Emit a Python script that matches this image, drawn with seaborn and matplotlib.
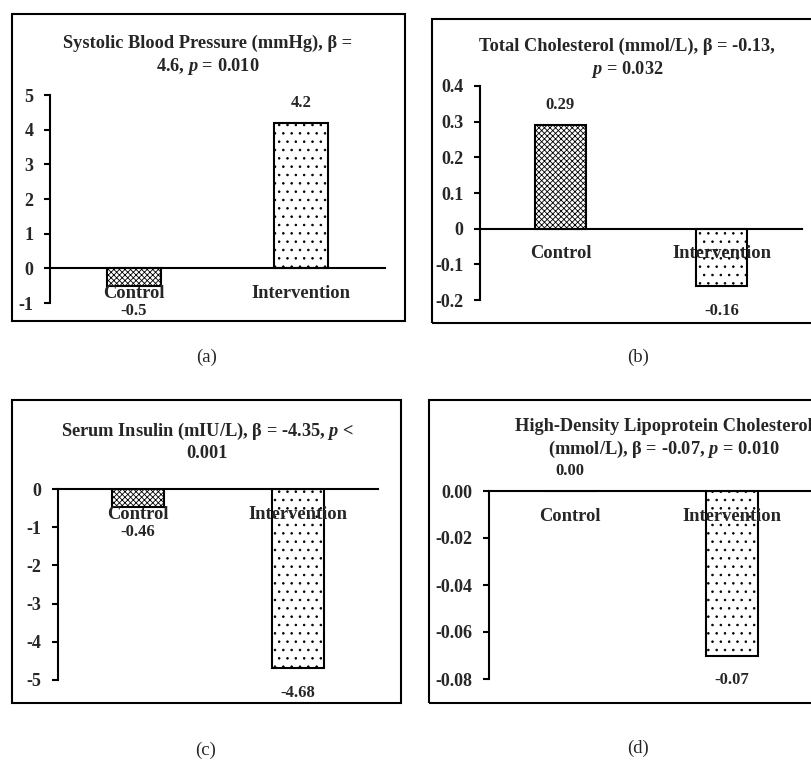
import numpy as np
import pandas as pd
import seaborn as sns
import matplotlib.pyplot as plt
from matplotlib.patches import Rectangle

# Data
categories = ['Control', 'Intervention']
sbp_change = [-0.5, 4.2]
chol_change = [0.29, -0.16]
insulin_change = [-0.46, -4.68]
hdl_change = [0.00, -0.07]

sbp_labels = ['-0.5', '4.2']
chol_labels = ['0.29', '-0.16']
insulin_labels = ['-0.46', '-4.68']
hdl_labels = ['0.00', '-0.07']

sbp_ticks = [-1, 0, 1, 2, 3, 4, 5]
chol_ticks = [-0.2, -0.1, 0, 0.1, 0.2, 0.3, 0.4]
chol_ticklabels = ['-0.2', '-0.1', '0', '0.1', '0.2', '0.3', '0.4']
insulin_ticks = [-5, -4, -3, -2, -1, 0]
hdl_ticks = [-0.08, -0.06, -0.04, -0.02, 0.00]

titles = ['Systolic Blood Pressure (mmHg), \u03b2 =\n4.6, $p$ = 0.010',
          'Total Cholesterol (mmol/L), \u03b2 = -0.13,\n$p$ = 0.032',
          'Serum Insulin (mIU/L), \u03b2 = -4.35, $p$ <\n0.001',
          'High-Density Lipoprotein Cholesterol\n(mmol/L), \u03b2 = -0.07, $p$ = 0.010']
panel_tags = ['(a)', '(b)', '(c)', '(d)']

sns.set_style('white')
plt.rcParams['font.family'] = ['Liberation Serif', 'DejaVu Serif']
plt.rcParams['mathtext.fontset'] = 'custom'
plt.rcParams['mathtext.it'] = 'Liberation Serif:italic:bold'
plt.rcParams['mathtext.rm'] = 'Liberation Serif:bold'
plt.rcParams['hatch.linewidth'] = 0.6

W, H = 812, 763
fig = plt.figure(figsize=(W / 100, H / 100), dpi=100)


def px_axes(x0, y0, x1, y1):
    return fig.add_axes([x0 / W, 1 - y1 / H, (x1 - x0) / W, (y1 - y0) / H])


def frame(x0, y0, x1, y1):
    fig.add_artist(Rectangle((x0 / W, 1 - y1 / H), (x1 - x0) / W, (y1 - y0) / H,
                             transform=fig.transFigure, fill=False, lw=1.5, ec='black'))


def panel(ax, values, labels, ylim, ticks, ticklabels):
    sns.barplot(x=categories, y=values, ax=ax, color='white', edgecolor='black',
                linewidth=1.5, width=0.32, saturation=1)
    for patch, h in zip(ax.patches, ['xxxxxx', '..']):
        patch.set_hatch(h)
        patch.set_facecolor('white')
        patch.set_zorder(1)
    ax.set_xlim(-0.5, 1.5)
    ax.set_ylim(*ylim)
    ax.set_yticks(ticks)
    ax.set_yticklabels(ticklabels, fontsize=13, fontweight='bold')
    for s in ['top', 'right']:
        ax.spines[s].set_visible(False)
    for s in ['left', 'bottom']:
        ax.spines[s].set_linewidth(1.5)
        ax.spines[s].set_color('black')
        ax.spines[s].set_zorder(5)
    ax.spines['bottom'].set_position(('data', 0))
    ax.xaxis.set_zorder(6)
    ax.tick_params(axis='y', left=True, length=4, width=1.5, pad=8, color='black')
    ax.tick_params(axis='x', length=0, pad=12)
    for t in ax.get_xticklabels():
        t.set_fontsize(13.3)
        t.set_fontweight('bold')
    ax.set_xlabel('')
    ax.set_ylabel('')
    ax.patch.set_alpha(0)
    for i, (v, lab) in enumerate(zip(values, labels)):
        off = 20 if v >= 0 else -25
        ax.annotate(lab, (i, v), xytext=(0, off), textcoords='offset pixels',
                    ha='center', va='center', fontsize=12, fontweight='bold', zorder=7)


# frames
frame(12, 14, 405, 321)
frame(432, 19, 844, 323)
frame(12, 400, 401, 703)
frame(429, 400, 847, 703)

ax_a = px_axes(50, 95, 385, 303)
panel(ax_a, sbp_change, sbp_labels, (-1, 5), sbp_ticks, [str(t) for t in sbp_ticks])
ax_b = px_axes(480, 86, 802, 300)
panel(ax_b, chol_change, chol_labels, (-0.2, 0.4), chol_ticks, chol_ticklabels)
ax_c = px_axes(58, 489, 378, 680)
panel(ax_c, insulin_change, insulin_labels, (-5, 0), insulin_ticks, [str(t) for t in insulin_ticks])
ax_d = px_axes(489, 491, 813, 679)
panel(ax_d, hdl_change, hdl_labels, (-0.08, 0), hdl_ticks, ['%.2f' % t for t in hdl_ticks])

# titles
title_pos = [(208, 56), (627, 59), (207, 441.5), (664, 439)]
for (tx, ty), t in zip(title_pos, titles):
    fig.text(tx / W, 1 - ty / H, t, ha='center', va='center', fontsize=13.2,
             fontweight='bold', linespacing=1.25)

tag_pos = [(207, 357), (638, 357), (206, 750), (638, 748)]
for (tx, ty), t in zip(tag_pos, panel_tags):
    fig.text(tx / W, 1 - ty / H, t, ha='center', va='center', fontsize=13.5)

fig.savefig('out.png', dpi=100, facecolor='white')
